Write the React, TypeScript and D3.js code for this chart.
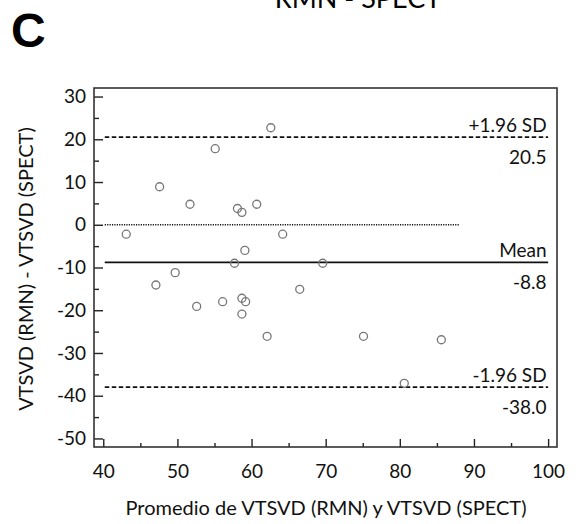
import React, { useEffect, useRef } from 'react'
import * as d3 from 'd3'

// average of the two methods (x) and their difference (y)
const promedio = [43.1, 47.6, 51.7, 55.1, 58.1, 58.7, 60.7, 62.6, 64.2, 59.1, 57.7, 49.7,
  69.6, 47.1, 52.6, 56.1, 58.7, 59.2, 58.7, 62.1, 66.5, 75.1, 85.6, 80.6]
const diferencia = [-2.2, 8.9, 4.8, 17.8, 3.8, 2.9, 4.8, 22.7, -2.2, -6.0, -9.0, -11.2,
  -9.0, -14.1, -19.1, -18.0, -17.2, -18.0, -20.9, -26.1, -15.1, -26.1, -26.9, -37.1]

const limitNames = ['+1.96 SD', 'Mean', '-1.96 SD']
const limitValues = [20.5, -8.8, -38.0]
const limitDash = ['4.5,2.5', null, '4.5,2.5']

const xTicks = [40, 50, 60, 70, 80, 90, 100]
const yTicks = [30, 20, 10, 0, -10, -20, -30, -40, -50]

const FONT = 'Lato, "Open Sans", sans-serif'

function drawBlandAltman(svgEl: SVGSVGElement) {
  const svg = d3.select(svgEl)
  svg.selectAll('*').remove()

  const left = 94, right = 557, top = 88, bottom = 447
  const x = d3.scaleLinear().domain([38.75, 101.2]).range([left, right])
  const y = d3.scaleLinear().domain([-52, 32]).range([bottom, top])
  const plain = (d: any) => String(d) // hyphen minus, like the original

  // panel letter and (cut off) title
  svg.append('text').attr('x', 11).attr('y', 47)
    .attr('font-family', '"Liberation Sans", Arial, sans-serif')
    .attr('font-weight', 'bold').attr('font-size', 48).text('C')
  svg.append('text').attr('x', 358).attr('y', 8).attr('text-anchor', 'middle')
    .attr('font-family', FONT).attr('font-size', 27).text('RMN - SPECT')

  // y axis, ticks pointing inward
  const yAxis = svg.append('g').attr('transform', `translate(${left},0)`)
    .call(d3.axisLeft(y).tickValues(yTicks).tickSize(-9).tickPadding(8).tickFormat(plain))
  yAxis.append('g')
    .call(d3.axisLeft(y).tickValues(d3.range(-45, 30, 10)).tickSize(-5).tickFormat(() => ''))
  yAxis.selectAll('.domain').remove()

  const xAxis = svg.append('g').attr('transform', `translate(0,${bottom})`)
    .call(d3.axisBottom(x).tickValues(xTicks).tickSize(-8).tickPadding(18).tickFormat(plain))
  xAxis.append('g')
    .call(d3.axisBottom(x).tickValues(d3.range(45, 100, 10)).tickSize(-4).tickFormat(() => ''))
  xAxis.selectAll('.domain').remove()

  svg.selectAll('.tick line').attr('stroke', '#222').attr('stroke-width', 1.4)
  svg.selectAll('.tick text').attr('font-family', FONT).attr('font-size', 19).attr('fill', '#111')

  // frame
  svg.append('rect').attr('x', left).attr('y', top)
    .attr('width', right - left).attr('height', bottom - top)
    .attr('fill', 'none').attr('stroke', '#333').attr('stroke-width', 1.6)

  // zero line
  svg.append('line').attr('x1', x(40.2)).attr('x2', x(88.1))
    .attr('y1', y(0)).attr('y2', y(0))
    .attr('stroke', '#111').attr('stroke-width', 1.4).attr('stroke-dasharray', '1.2,1.2')

  // limits of agreement
  limitValues.forEach((v, i) => {
    const yy = y(v)
    const ln = svg.append('line').attr('x1', x(40.2)).attr('x2', x(100))
      .attr('y1', yy).attr('y2', yy)
      .attr('stroke', '#111').attr('stroke-width', 1.6)
    if (limitDash[i]) ln.attr('stroke-dasharray', limitDash[i] as string)
    svg.append('text').attr('x', x(99.8)).attr('y', yy - 5).attr('text-anchor', 'end')
      .attr('font-family', FONT).attr('font-size', 19).attr('fill', '#111').text(limitNames[i])
    svg.append('text').attr('x', x(99.8)).attr('y', yy + 27).attr('text-anchor', 'end')
      .attr('font-family', FONT).attr('font-size', 19).attr('fill', '#111').text(v.toFixed(1))
  })

  // data points
  svg.append('g').selectAll('circle').data(promedio)
    .join('circle')
    .attr('cx', d => x(d))
    .attr('cy', (d, i) => y(diferencia[i]))
    .attr('r', 4)
    .attr('fill', 'none').attr('stroke', '#777').attr('stroke-width', 1.3)

  // axis titles
  svg.append('text').attr('x', 326).attr('y', 515).attr('text-anchor', 'middle')
    .attr('font-family', FONT).attr('font-size', 20).attr('fill', '#111')
    .text('Promedio de VTSVD (RMN) y VTSVD (SPECT)')
  svg.append('text').attr('transform', 'translate(33,269) rotate(-90)').attr('text-anchor', 'middle')
    .attr('font-family', FONT).attr('font-size', 20).attr('fill', '#111')
    .text('VTSVD (RMN) - VTSVD (SPECT)')
}

export default function App() {
  const ref = useRef<SVGSVGElement>(null)
  useEffect(() => {
    if (ref.current) drawBlandAltman(ref.current)
  })
  return (
    <svg ref={ref} width={579} height={524}
      style={{ position: 'absolute', left: 0, top: 0, background: '#fff' }} />
  )
}
